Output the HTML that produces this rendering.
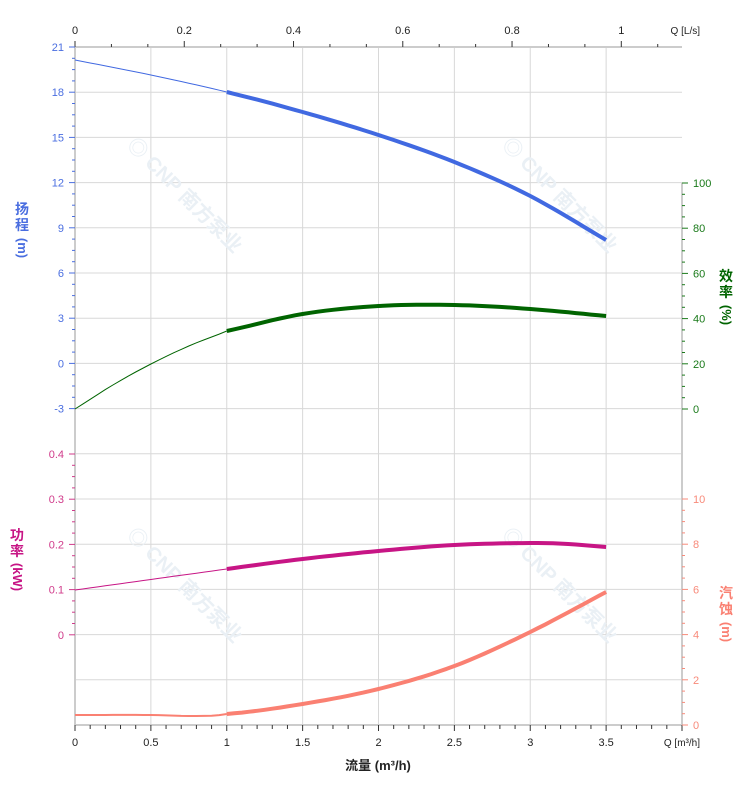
<!DOCTYPE html>
<html><head><meta charset="utf-8"><style>
body{margin:0;background:#fff;width:752px;height:797px;overflow:hidden}
svg{display:block;font-family:"Liberation Sans","Noto Sans CJK SC",sans-serif}
</style></head><body>
<svg id="s" width="752" height="797" xmlns="http://www.w3.org/2000/svg"></svg>
<script>
const s=document.getElementById('s');let h='';
const X0=75,X1=682,Y0=47,Y1=725,px=151.75,py=45.2;
const X=q=>X0+q*px;
for(let i=1;i<8;i++)h+=`<line x1="${X(i*0.5)}" y1="${Y0}" x2="${X(i*0.5)}" y2="${Y1}" stroke="#d8d8d8" stroke-width="1"/>`;
for(let i=1;i<15;i++){let y=Y0+i*py;h+=`<line x1="${X0}" y1="${y}" x2="${X1}" y2="${y}" stroke="#d8d8d8" stroke-width="1"/>`;}
[[180,200],[555,200],[180,590],[555,590]].forEach(([x,y])=>h+=`<text x="${x}" y="${y}" transform="rotate(45 ${x} ${y})" font-size="20" font-weight="bold" fill="#eaf0f5" text-anchor="middle">◎ CNP 南方泵业</text>`);
h+=`<line x1="${X0}" y1="${Y0}" x2="${X0}" y2="${Y1}" stroke="#ccc" stroke-width="2"/>`;
h+=`<line x1="${X1}" y1="183" x2="${X1}" y2="${Y1}" stroke="#ccc" stroke-width="2"/>`;
h+=`<line x1="${X0}" y1="${Y0}" x2="${X1}" y2="${Y0}" stroke="#ccc" stroke-width="2"/>`;
h+=`<line x1="${X0}" y1="${Y1}" x2="${X1}" y2="${Y1}" stroke="#ccc" stroke-width="2"/>`;
for(let i=0;i<=40;i++){let x=X(i*0.1);h+=`<line x1="${x}" y1="${Y1}" x2="${x}" y2="${Y1+(i%5?4:6)}" stroke="#333"/>`;}
['0','0.5','1','1.5','2','2.5','3','3.5'].forEach((t,i)=>h+=`<text x="${X(i*0.5)}" y="746" font-size="11" text-anchor="middle" fill="#222">${t}</text>`);
h+=`<text x="700" y="746" font-size="10" text-anchor="end" fill="#222">Q [m³/h]</text>`;
h+=`<text x="378" y="770" font-size="13" font-weight="bold" text-anchor="middle" fill="#222">流量 (m³/h)</text>`;
for(let i=0;i<=16;i++){let x=X0+i*36.42;h+=`<line x1="${x}" y1="${Y0}" x2="${x}" y2="${Y0-(i%3?3:6)}" stroke="#333"/>`;}
['0','0.2','0.4','0.6','0.8','1'].forEach((t,i)=>h+=`<text x="${X0+i*109.26}" y="34" font-size="11" text-anchor="middle" fill="#222">${t}</text>`);
h+=`<text x="700" y="34" font-size="10" text-anchor="end" fill="#222">Q [L/s]</text>`;
for(let i=0;i<=32;i++){let y=Y0+i*py/4;h+=`<line x1="${X0}" y1="${y}" x2="${X0-(i%4?3:6)}" y2="${y}" stroke="#4a6ee0"/>`;}
[21,18,15,12,9,6,3,0,-3].forEach((t,i)=>h+=`<text x="64" y="${Y0+i*py+4}" font-size="11" text-anchor="end" fill="#4a6ee0">${t}</text>`);
for(let i=0;i<=16;i++){let y=454+i*py/4;h+=`<line x1="${X0}" y1="${y}" x2="${X0-(i%4?3:6)}" y2="${y}" stroke="#d03a8a"/>`;}
['0.4','0.3','0.2','0.1','0'].forEach((t,i)=>h+=`<text x="64" y="${454+i*py+4}" font-size="11" text-anchor="end" fill="#d03a8a">${t}</text>`);
for(let i=0;i<=20;i++){let y=183+i*py/4;h+=`<line x1="${X1}" y1="${y}" x2="${X1+(i%4?3:6)}" y2="${y}" stroke="#1a7a1a"/>`;}
[100,80,60,40,20,0].forEach((t,i)=>h+=`<text x="693" y="${183+i*py+4}" font-size="11" fill="#1a7a1a">${t}</text>`);
for(let i=0;i<=20;i++){let y=499+i*py/4;h+=`<line x1="${X1}" y1="${y}" x2="${X1+(i%4?3:6)}" y2="${y}" stroke="#f88a7a"/>`;}
[10,8,6,4,2,0].forEach((t,i)=>h+=`<text x="693" y="${499+i*py+4}" font-size="11" fill="#f88a7a">${t}</text>`);
function vl(cx,y,c,a,b,p){
 h+=`<text x="${cx}" y="${y}" font-size="14" font-weight="bold" fill="${c}" text-anchor="middle">${a}</text>`;
 h+=`<text x="${cx}" y="${y+16}" font-size="14" font-weight="bold" fill="${c}" text-anchor="middle">${b}</text>`;
 let py2=y+34+(p.length-3)*3, bx=cx-4;
 h+=`<text x="${bx}" y="${py2}" transform="rotate(90 ${bx} ${py2})" font-size="13" font-weight="bold" fill="${c}" text-anchor="middle">${p}</text>`;
}
vl(22,214,'#4a6ee0','扬','程','(m)');
vl(726,281,'#006400','效','率','(%)');
vl(17,540,'#c71585','功','率','(kW)');
vl(726,598,'#fa8072','汽','蚀','(m)');
function curve(pts,c,w0,w1){
 const mk=a=>a.map(p=>X(p[0]).toFixed(1)+','+p[1].toFixed(1)).join(' ');
 h+=`<polyline points="${mk(pts.filter(p=>p[0]<=1))}" fill="none" stroke="${c}" stroke-width="${w0}"/>`;
 h+=`<polyline points="${mk(pts.filter(p=>p[0]>=1))}" fill="none" stroke="${c}" stroke-width="${w1}" stroke-linejoin="round"/>`;
}
function samp(f){let a=[];for(let q=0;q<=3.5001;q+=0.05)a.push([+q.toFixed(2),f(+q.toFixed(2))]);return a;}
function interp(k){return q=>{for(let i=0;i<k.length-1;i++){if(q<=k[i+1][0]+1e-9){let[a,ya]=k[i],[b,yb]=k[i+1];let t=(q-a)/(b-a);
 let y0=i>0?k[i-1][1]:ya-(yb-ya),y3=i<k.length-2?k[i+2][1]:yb+(yb-ya);
 return 0.5*((2*ya)+(-y0+yb)*t+(2*y0-5*ya+4*yb-y3)*t*t+(-y0+3*ya-3*yb+y3)*t*t*t);}}return k[k.length-1][1];};}
curve(samp(interp([[0,60],[0.5,75],[1,92],[1.5,112],[2,135],[2.5,162],[3,196],[3.5,240]])),'#4169e1',1,4);
curve(samp(interp([[0,409],[0.25,385],[0.5,364],[0.75,346],[1,331],[1.5,314],[2,306],[2.5,305],[3,309],[3.5,316]])),'#006400',1,4);
curve(samp(interp([[0,590],[0.5,579.5],[1,569],[1.5,559],[2,551],[2.5,545],[3,543],[3.25,544],[3.5,547]])),'#c71585',1,4);
curve(samp(interp([[0,715],[0.5,715],[0.8,716],[1,714],[1.5,704],[2,689],[2.5,666],[3,632],[3.5,592]])),'#fa8072',2,4);
s.innerHTML=h;
</script>
</body></html>
